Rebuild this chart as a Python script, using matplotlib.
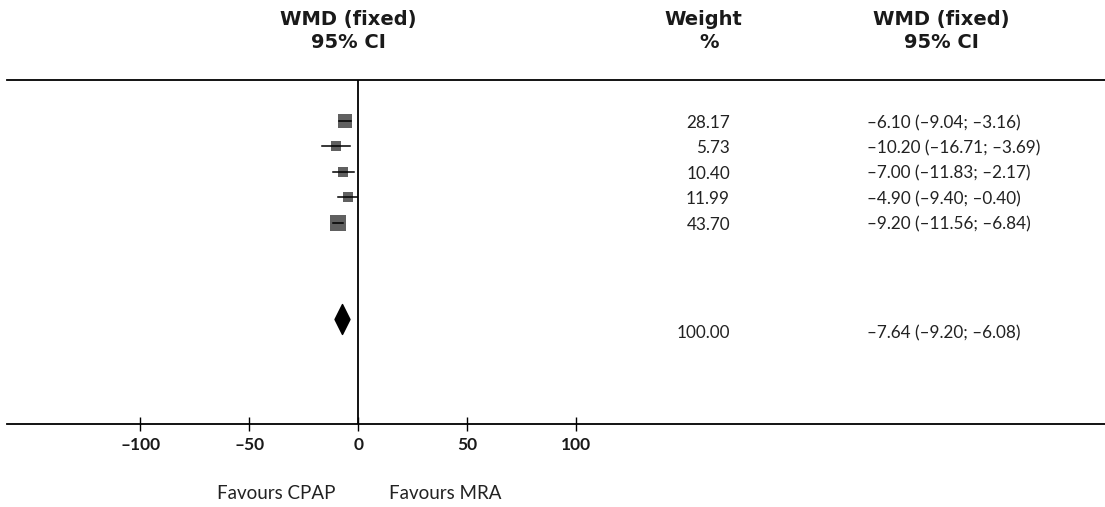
import matplotlib
matplotlib.use("Agg")
import matplotlib.pyplot as plt
from matplotlib.path import Path
from matplotlib.transforms import blended_transform_factory

# ---- data ----
weights = [28.17, 5.73, 10.40, 11.99, 43.70]
means = [-6.10, -10.20, -7.00, -4.90, -9.20]
lower = [-9.04, -16.71, -11.83, -9.40, -11.56]
upper = [-3.16, -3.69, -2.17, -0.40, -6.84]
pooled_weight = 100.00
pooled_mean = -7.64
pooled_lower = -9.20
pooled_upper = -6.08
xticks = [-100, -50, 0, 50, 100]
xtick_labels = ["\u2013100", "\u201350", "0", "50", "100"]
left_label = "Favours CPAP"
right_label = "Favours MRA"

W, H = 1105, 507
fig = plt.figure(figsize=(W / 100, H / 100), dpi=100)
FONT = "Lato"
HFONT = "DejaVu Sans"

ax_left, ax_right, ax_top, ax_bot = 7, 1105, 80.3, 424.3
ax = fig.add_axes([ax_left / W, 1 - ax_bot / H, (ax_right - ax_left) / W, (ax_bot - ax_top) / H])

# x scale: 0 at px 358.3, 2.18 px / unit
zero_px, ppu = 358.3, 2.18
ax.set_xlim((ax_left - zero_px) / ppu, (ax_right - zero_px) / ppu)
# y in row units: row 0 at px 121, 25.4 px per row
row0, rowh = 121.0, 25.4
ax.set_ylim((ax_bot - row0) / rowh, (ax_top - row0) / rowh)

for s in ["left", "right"]:
    ax.spines[s].set_visible(False)
for s in ["top", "bottom"]:
    ax.spines[s].set_linewidth(1.3)
ax.set_yticks([])
ax.set_xticks(xticks)
ax.set_xticklabels(xtick_labels, fontfamily=FONT, fontsize=12.5, fontweight="bold",
                   color="#1a1a1a")
ax.tick_params(axis="x", direction="inout", length=10, width=1.0, pad=4)
ax.axvline(0, color="black", lw=1.3)

# study rows
for i, (w, m, lo, hi) in enumerate(zip(weights, means, lower, upper)):
    side_px = 9 + 0.15 * w
    ax.plot(m, i, marker="s", markersize=side_px * 0.72, color="#606060",
            markeredgewidth=0, linestyle="none", zorder=2)
    ax.plot([lo, hi], [i, i], color="black", lw=1.1, zorder=3)

# pooled diamond
pooled_row = (319 - row0) / rowh
diamond = Path([(0, 1), (0.5, 0), (0, -1), (-0.5, 0), (0, 1)],
               [Path.MOVETO, Path.LINETO, Path.LINETO, Path.LINETO, Path.CLOSEPOLY])
ax.plot(pooled_mean, pooled_row, marker=diamond, markersize=30 * 0.72,
        color="black", linestyle="none", zorder=3)

# text columns
tr = blended_transform_factory(fig.transFigure, ax.transData)
wx = 730 / W
cx = 866.7 / W
base_off = 7.0 / rowh


def fmt(v):
    return f"{v:.2f}".replace("-", "\u2013")


for i, (w, m, lo, hi) in enumerate(zip(weights, means, lower, upper)):
    y = i + base_off
    ax.text(wx, y, f"{w:.2f}", transform=tr, ha="right", va="baseline",
            fontfamily=FONT, fontsize=12.3, color="#222222")
    ax.text(cx, y, f"{fmt(m)} ({fmt(lo)}; {fmt(hi)})", transform=tr, ha="left",
            va="baseline", fontfamily=FONT, fontsize=12.3, color="#222222")

py = pooled_row + 19.3 / rowh
ax.text(wx, py, f"{pooled_weight:.2f}", transform=tr, ha="right", va="baseline",
        fontfamily=FONT, fontsize=12.3, color="#222222")
ax.text(cx, py, f"{fmt(pooled_mean)} ({fmt(pooled_lower)}; {fmt(pooled_upper)})",
        transform=tr, ha="left", va="baseline", fontfamily=FONT, fontsize=12.3,
        color="#222222")


def ftext(xpx, ypx, s, family=FONT, **kw):
    fig.text(xpx / W, 1 - ypx / H, s, fontfamily=family, **kw)


hdr = dict(fontsize=14, fontweight="bold", ha="center", va="baseline", color="#1a1a1a")
ftext(348, 25, "WMD (fixed)", family=HFONT, **hdr)
ftext(348, 48.3, "95% CI", family=HFONT, **hdr)
ftext(703, 25, "Weight", family=HFONT, **hdr)
ftext(709, 48.3, "%", family=HFONT, **hdr)
ftext(941, 25, "WMD (fixed)", family=HFONT, **hdr)
ftext(941, 48.3, "95% CI", family=HFONT, **hdr)

ftext(276.3, 499.4, left_label, fontsize=13.5, ha="center", va="baseline", color="#222222")
ftext(445.5, 499.4, right_label, fontsize=13.5, ha="center", va="baseline", color="#222222")

fig.savefig("out.png", dpi=100)
